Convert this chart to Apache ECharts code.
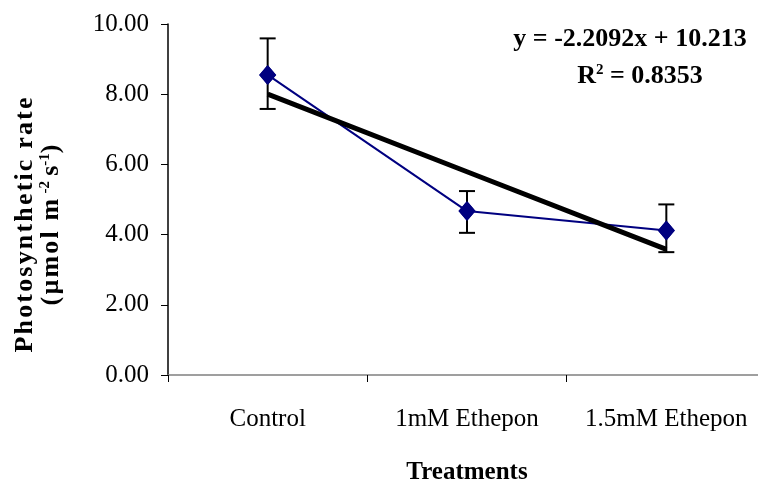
<!DOCTYPE html>
<html>
<head>
<meta charset="utf-8">
<script src="https://cdn.jsdelivr.net/npm/echarts@6/dist/echarts.min.js"></script>
<style>html,body{margin:0;padding:0;background:#fff}#c{width:758px;height:486px}</style>
</head>
<body>
<div id="c"></div>
<script>
const categories = ['Control', '1mM Ethepon', '1.5mM Ethepon'];
const rateValues = [8.55, 4.67, 4.12];
const errLow = [7.58, 4.05, 3.50];
const errHigh = [9.59, 5.24, 4.86];
const trendValues = [8.00, 5.79, 3.58];
const yTicks = [0, 2, 4, 6, 8, 10];
const equationText = 'y = -2.2092x + 10.213';
const r2Value = '0.8353';

const chart = echarts.init(document.getElementById('c'), null, {renderer: 'canvas'});
const serif = '"Liberation Serif", "Times New Roman", serif';
const sp = s => s.split('').join('\u200A');

const option = {
  animation: false,
  backgroundColor: '#fff',
  grid: {left: 168, top: 24, width: 598, bottom: 111, containLabel: false, outerBoundsMode: 'none'},
  xAxis: {
    type: 'category',
    data: categories,
    boundaryGap: true,
    axisLine: {lineStyle: {color: '#808080', width: 1.5}},
    axisTick: {show: true, interval: 0, length: 7, lineStyle: {color: '#000', width: 1}},
    axisLabel: {color: '#000', fontFamily: serif, fontSize: 25, margin: 32, interval: 0},
    splitLine: {show: false},
    name: 'Treatments',
    nameLocation: 'middle',
    nameGap: 85,
    nameTextStyle: {color: '#000', fontFamily: serif, fontSize: 25, fontWeight: 'bold'}
  },
  yAxis: {
    type: 'value',
    min: yTicks[0],
    max: yTicks[yTicks.length - 1],
    interval: 2,
    axisLine: {show: true, lineStyle: {color: '#000', width: 1.5}},
    axisTick: {show: true, length: 7, lineStyle: {color: '#000', width: 1}},
    axisLabel: {color: '#000', fontFamily: serif, fontSize: 25, margin: 19,
      formatter: v => v.toFixed(2)},
    splitLine: {show: false}
  },
  graphic: [
    {
      type: 'text', x: 38, y: 225, rotation: Math.PI / 2,
      style: {
        text: '{a|' + sp('Photosynthetic rate') + '}\n{a|' + sp('(µmol m') + '\u2009}{s|-2}{a|\u2009s}{s|-1}{a|)}',
        align: 'center', verticalAlign: 'middle',
        rich: {
          a: {fontFamily: serif, fontSize: 26, fontWeight: 'bold', fill: '#000', lineHeight: 26},
          s: {fontFamily: serif, fontSize: 15, fontWeight: 'bold', fill: '#000', lineHeight: 26, padding: [0, 0, 12, 0]}
        }
      }
    },
    {
      type: 'text', x: 630, y: 39,
      style: {text: equationText, align: 'center', verticalAlign: 'middle',
        font: 'bold 26px ' + serif, fill: '#000'}
    },
    {
      type: 'text', x: 640, y: 76,
      style: {text: '{a|R}{s|2}{a| = ' + r2Value + '}', align: 'center', verticalAlign: 'middle',
        rich: {
          a: {fontFamily: serif, fontSize: 26, fontWeight: 'bold', fill: '#000'},
          s: {fontFamily: serif, fontSize: 15, fontWeight: 'bold', fill: '#000', padding: [0, 0, 12, 0]}
        }
      }
    }
  ],
  series: [
    {
      type: 'line',
      data: rateValues,
      symbol: 'diamond',
      symbolSize: [17, 20],
      showSymbol: true,
      lineStyle: {color: '#000080', width: 2},
      itemStyle: {color: '#000080'},
      z: 3
    },
    {
      type: 'line',
      data: trendValues,
      symbol: 'none',
      lineStyle: {color: '#000', width: 5},
      z: 4
    },
    {
      type: 'custom',
      z: 5,
      data: categories.map((c, i) => [i, errLow[i], errHigh[i]]),
      renderItem: function (params, api) {
        const x = api.value(0);
        const lo = api.coord([x, api.value(1)]);
        const hi = api.coord([x, api.value(2)]);
        const hw = 8;
        const st = {stroke: '#000', lineWidth: 2};
        return {
          type: 'group',
          children: [
            {type: 'line', shape: {x1: lo[0], y1: lo[1], x2: hi[0], y2: hi[1]}, style: st},
            {type: 'line', shape: {x1: lo[0] - hw, y1: lo[1], x2: lo[0] + hw, y2: lo[1]}, style: st},
            {type: 'line', shape: {x1: hi[0] - hw, y1: hi[1], x2: hi[0] + hw, y2: hi[1]}, style: st}
          ]
        };
      }
    },
    {
      type: 'line',
      data: rateValues,
      symbol: 'diamond',
      symbolSize: [17, 20],
      lineStyle: {opacity: 0},
      itemStyle: {color: '#000080'},
      z: 6
    }
  ]
};
chart.setOption(option);
</script>
</body>
</html>
